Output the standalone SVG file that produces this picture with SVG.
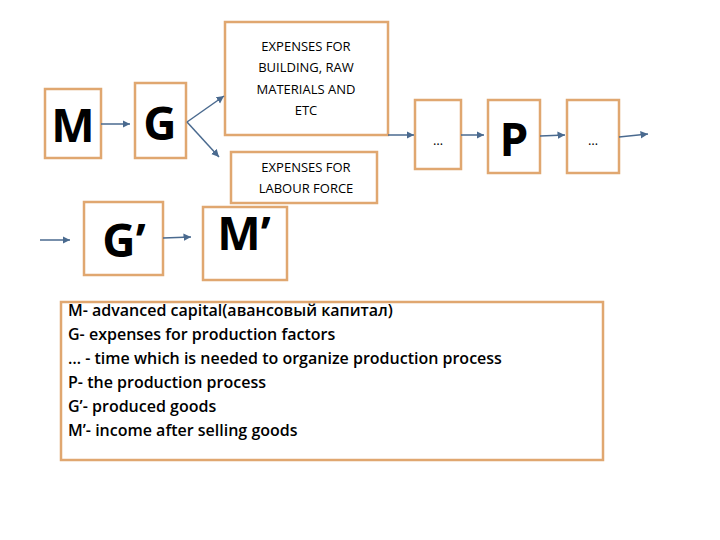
<svg xmlns="http://www.w3.org/2000/svg" width="720" height="540" viewBox="0 0 720 540">
<defs><marker id="a" markerWidth="6" markerHeight="6" refX="5" refY="3" orient="auto"><path d="M0,0.5 L5,3 L0,5.5 z" fill="#4a6a8f"/></marker></defs>
<style>
.b{fill:#fff;stroke:#e0a770;stroke-width:2.5}
.big{font-family:"Open Sans","Liberation Sans",sans-serif;font-weight:bold;font-size:46px;text-anchor:middle}
.s{font-family:"Open Sans","Liberation Sans",sans-serif;font-size:13px;text-anchor:middle}
.l{font-family:"Open Sans","Liberation Sans",sans-serif;font-size:16px;font-weight:600}
.c{stroke:#4a6a8f;stroke-width:1.5;fill:none;marker-end:url(#a)}
</style>
<rect width="720" height="540" fill="#fff"/>
<g id="nM"><rect class="b" x="45" y="89" width="56" height="69"/><text class="big" x="73" y="142">M</text></g>
<g id="nG"><rect class="b" x="135" y="83" width="51" height="75"/><text class="big" x="160" y="140">G</text></g>
<g id="n1"><rect class="b" x="225" y="22" width="163" height="113"/><text class="s" x="306" y="51">EXPENSES FOR</text><text class="s" x="306" y="72">BUILDING, RAW</text><text class="s" x="306" y="94">MATERIALS AND</text><text class="s" x="306" y="115">ETC</text></g>
<g id="n2"><rect class="b" x="231" y="152" width="146" height="51"/><text class="s" x="306" y="172">EXPENSES FOR</text><text class="s" x="306" y="193">LABOUR FORCE</text></g>
<g id="nD1"><rect class="b" x="415" y="100" width="46" height="69"/><text class="s" x="438" y="145">…</text></g>
<g id="nP"><rect class="b" x="488" y="100" width="52" height="73"/><text class="big" x="514" y="156">P</text></g>
<g id="nD2"><rect class="b" x="567" y="100" width="52" height="73"/><text class="s" x="593" y="145">…</text></g>
<g id="nG2"><rect class="b" x="84" y="202" width="79" height="73"/><text class="big" x="124" y="257">G’</text></g>
<g id="nM2"><rect class="b" x="203" y="207" width="84" height="73"/><text class="big" x="244" y="250">M’</text></g>
<g id="legend"><rect class="b" x="61" y="302" width="542" height="158"/>
<text class="l" x="68" y="316">M- advanced capital(авансовый капитал)</text>
<text class="l" x="68" y="340">G-  expenses for production factors</text>
<text class="l" x="68" y="364">… - time which is needed to organize production process</text>
<text class="l" x="68" y="388">P- the production process</text>
<text class="l" x="68" y="412">G’- produced goods</text>
<text class="l" x="68" y="436">M’- income after selling goods</text></g>
<g id="connectors">
<path class="c" d="M101,124 H130"/>
<path class="c" d="M187,122 L224,96"/>
<path class="c" d="M187,122 L219,157"/>
<path class="c" d="M388,135 H414"/>
<path class="c" d="M461,135 H484"/>
<path class="c" d="M540,136 L565,135"/>
<path class="c" d="M619,137 L648,134"/>
<path class="c" d="M40,240 H70"/>
<path class="c" d="M163,238 L191,237"/>
</g>
</svg>
